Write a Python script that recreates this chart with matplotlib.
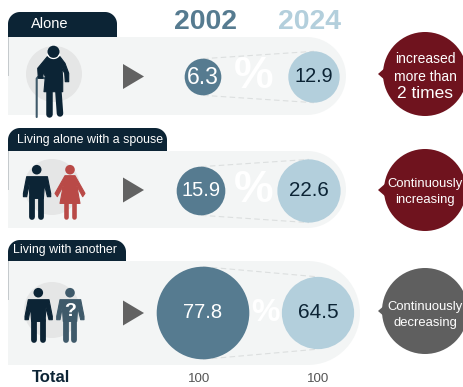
import numpy as np
import matplotlib
matplotlib.use("Agg")
import matplotlib.pyplot as plt
from matplotlib.patches import Circle, Polygon

plt.rcParams['font.family'] = ['Liberation Sans', 'DejaVu Sans']

# Household types and their shares (%)
categories = ["Alone", "Living alone with a spouse", "Living with another"]
years = ["2002", "2024"]
values_2002 = [6.3, 15.9, 77.8]
values_2024 = [12.9, 22.6, 64.5]
totals = [100, 100]
total_label = "Total"
trend_notes = [["increased", "more than", "2 times"],
               ["Continuously", "increasing"],
               ["Continuously", "decreasing"]]

NAVY = "#0c2435"
BAND = "#f3f5f5"
HALO = "#e5e6e6"
DARK_BUBBLE = "#567b90"
LIGHT_BUBBLE = "#b3cfdc"
WINE = "#6f131e"
GREY = "#5f5f5f"
WOMAN = "#b94a47"
UNKNOWN = "#3f5a6a"

# bubble size per unit of sqrt(value), set by hand row by row
scale_2002 = [7.3, 6.1, 5.25]
scale_2024 = [7.15, 6.65, 4.5]

fig = plt.figure(figsize=(4.64, 3.87), dpi=100)
ax = fig.add_axes([0, 0, 1, 1])
ax.set_xlim(0, 464)
ax.set_ylim(387, 0)
ax.axis("off")


def arc(cx, cy, r, a0, a1, n=30):
    t = np.radians(np.linspace(a0, a1, n))
    return np.column_stack([cx + r * np.cos(t), cy + r * np.sin(t)])


def draw_band(x0, x1, y0, y1):
    r = (y1 - y0) / 2
    pts = np.vstack([[[x0, y0]], arc(x1 - r, y0 + r, r, -90, 90), [[x0, y1]]])
    ax.add_patch(Polygon(pts, fc=BAND, ec="none", zorder=1))
    # thin rule on the upper part of the left edge
    ax.plot([x0, x0], [y0, y0 + 38], color="#c4c9cc", lw=0.7, zorder=2)


def draw_tab(x0, x1, y0, y1, r=12):
    pts = np.vstack([[[x0, y1]], arc(x0 + r, y0 + r, r, 180, 270),
                     arc(x1 - r, y0 + r, r, 270, 360), [[x1, y1]]])
    ax.add_patch(Polygon(pts, fc=NAVY, ec="none", zorder=3))


def limb(xs, ys, width, color):
    ax.plot(xs, ys, color=color, lw=width * 0.72, solid_capstyle="round",
            solid_joinstyle="round", zorder=5)


def outline(points, cx, cy, color):
    pts = [(cx + px, cy + py) for px, py in points]
    ax.add_patch(Polygon(pts, fc=color, ec=color, lw=0.8, joinstyle="round", zorder=5))


def draw_man(cx, head_y, color):
    ax.add_patch(Circle((cx, head_y), 4.8, fc=color, ec="none", zorder=5))
    outline([(-10, 7), (10.7, 7), (14, 23.7), (14, 27), (10.7, 27), (7.7, 14.7), (6.7, 28.7),
             (-6.7, 28.7), (-7.7, 14.7), (-10, 27), (-13.3, 27), (-13.3, 23.7)], cx, head_y, color)
    limb([cx - 4.3, cx - 4.3], [head_y + 27, head_y + 47.5], 5.8, color)
    limb([cx + 4.3, cx + 4.3], [head_y + 27, head_y + 47.5], 5.8, color)


def draw_woman(cx, head_y, color):
    ax.add_patch(Circle((cx, head_y), 4.8, fc=color, ec="none", zorder=5))
    outline([(-5, 6), (5, 6), (15, 23.7), (12.7, 27), (6.7, 16), (10, 33.7), (-10, 33.7),
             (-6.7, 16), (-12.7, 27), (-15, 23.7)], cx, head_y, color)
    limb([cx - 4.3, cx - 4.3], [head_y + 33, head_y + 47.5], 4.6, color)
    limb([cx + 4.3, cx + 4.3], [head_y + 33, head_y + 47.5], 4.6, color)


def draw_old_man():
    ax.add_patch(Circle((54, 74), 28, fc=HALO, ec="none", zorder=2))
    outline([(47.3, 56.7), (60, 56.7), (65, 63.3), (68.7, 73.3), (68.7, 81.7), (65.3, 81.7),
             (64.7, 73.3), (62, 68.3), (62.7, 80), (62.7, 91.7), (44, 91.7), (45.3, 76.7),
             (43.3, 71.7), (42.7, 78.3), (38.3, 78.3), (37.7, 68.3)], 0, 0, NAVY)
    ax.add_patch(Circle((53.5, 51.7), 6, fc=NAVY, ec="none", zorder=6))
    # white collar under the head
    ax.plot(*arc(53.5, 51.7, 6.8, 25, 155).T, color="white", lw=0.9, zorder=6)
    limb([49.3, 49.3], [90, 113.5], 6.5, NAVY)
    limb([58.3, 60], [90, 113.5], 6.5, NAVY)
    # walking stick
    ax.plot([36.7, 36.7, 38, 45], [117, 78.5, 77, 78.3], color=UNKNOWN, lw=1.5, zorder=4,
            solid_capstyle="round")


# row geometry: band top/bottom, band end, tab end, tab top
band_top = [37, 151, 261]
band_bottom = [115, 228, 365]
band_end = [346, 346, 360]
tab_end = [117, 167, 126]
tab_top = [12, 128, 240]
row_mid = [77, 191, 313]
x_2002 = [203, 201, 203]
x_2024 = [314, 309, 318]
font_2002 = [16.5, 14.5, 14.5]
font_2024 = [14.3, 14.8, 15]
percent_x = [254, 254, 266]
percent_size = [32, 32, 23]
tab_x = [50, 17, 13]
tab_y = [24, 140, 250]
tab_size = [10.5, 8.9, 8.9]
note_y = [[59, 77, 93], [184, 200], [307, 323]]
note_mid = [74, 190, 311]
note_r = [42, 41, 43]
note_color = [WINE, WINE, GREY]
tri_mid = [76.5, 190, 313]

for i, name in enumerate(categories):
    draw_band(8, band_end[i], band_top[i], band_bottom[i])
    draw_tab(8, tab_end[i], tab_top[i], band_top[i])
    ax.text(tab_x[i], tab_y[i], name, color="white", fontsize=tab_size[i], va="center",
            ha="center" if i == 0 else "left", zorder=6)

    ax.add_patch(Polygon([(123, tri_mid[i] - 12.5), (144, tri_mid[i]), (123, tri_mid[i] + 12.5)],
                         fc="#626262", ec="none", zorder=3))

    r1 = scale_2002[i] * np.sqrt(values_2002[i])
    r2 = scale_2024[i] * np.sqrt(values_2024[i])
    y = row_mid[i]
    for sign in (-1, 1):
        ax.plot([x_2002[i], x_2024[i]], [y + sign * r1, y + sign * r2], color="#dcdfdf",
                lw=0.8, ls=(0, (5, 3)), zorder=2)
    ax.text(percent_x[i], y, "%", color="white", fontsize=percent_size[i], fontweight="bold",
            ha="center", va="center", zorder=3)
    ax.add_patch(Circle((x_2002[i], y), r1, fc=DARK_BUBBLE, ec="none", zorder=4))
    ax.add_patch(Circle((x_2024[i], y), r2, fc=LIGHT_BUBBLE, ec="none", zorder=4))
    ax.text(x_2002[i], y, f"{values_2002[i]}", color="white", fontsize=font_2002[i],
            ha="center", va="center", zorder=5)
    ax.text(x_2024[i], y, f"{values_2024[i]}", color=NAVY, fontsize=font_2024[i],
            ha="center", va="center", zorder=5)

    # trend note on the right, speech bubble pointing at the row
    m = note_mid[i]
    ax.add_patch(Circle((425, m), note_r[i], fc=note_color[i], ec="none", zorder=3))
    ax.add_patch(Polygon([(378, m), (386, m - 7), (386, m + 7)], fc=note_color[i], ec="none", zorder=3))
    for j, line in enumerate(trend_notes[i]):
        big = line == "2 times"
        size = 12.5 if big else (10 if i == 0 else 9.4)
        ax.text(425, note_y[i][j], line, color="white", fontsize=size, ha="center", va="center", zorder=5)

draw_old_man()

ax.add_patch(Circle((52, 187), 28, fc=HALO, ec="none", zorder=2))
draw_man(36.7, 169.7, NAVY)
draw_woman(70, 169.7, WOMAN)

ax.add_patch(Circle((52, 310), 28, fc=HALO, ec="none", zorder=2))
draw_man(38.3, 292.7, NAVY)
draw_man(70, 292.7, UNKNOWN)
ax.text(70, 311, "?", color="white", fontsize=14, fontweight="bold", ha="center", va="center", zorder=6)

ax.text(206, 22, years[0], color=DARK_BUBBLE, fontsize=20.4, fontweight="bold", ha="center", va="center")
ax.text(310, 22, years[1], color=LIGHT_BUBBLE, fontsize=20.4, fontweight="bold", ha="center", va="center")

ax.text(51, 378, total_label, color=NAVY, fontsize=12, fontweight="bold", ha="center", va="center")
ax.text(199, 379, str(totals[0]), color="#555555", fontsize=9.6, ha="center", va="center")
ax.text(318, 379, str(totals[1]), color="#555555", fontsize=9.6, ha="center", va="center")

fig.savefig("out.png", dpi=100)
